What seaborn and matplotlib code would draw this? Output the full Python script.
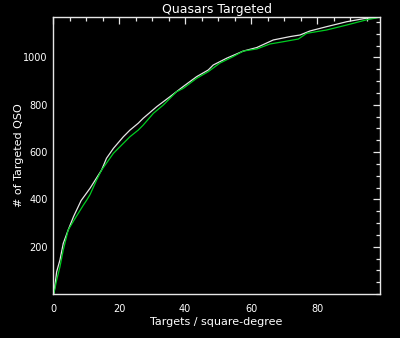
import numpy as np
import pandas as pd
import matplotlib
matplotlib.use("Agg")
import matplotlib.pyplot as plt
import seaborn as sns
from matplotlib.ticker import MultipleLocator, FixedLocator

# Data
white_x = [0, 0.3, 1.1, 2.1, 3.1, 4.6, 6.2, 8.5, 11.2, 14.7, 16.2, 18.3, 21.3, 23.3, 25.8,
           27.3, 31.4, 35.4, 39.4, 43.5, 47.0, 48.5, 52.6, 57.6, 61.7, 66.7, 71.7, 74.8,
           77.8, 82.8, 88.9, 94.9, 99]
white_y = [0, 4, 94, 144, 214, 271, 327, 395, 447, 524, 574, 616, 665, 693, 722,
           743, 792, 834, 877, 919, 947, 968, 997, 1027, 1042, 1074, 1088, 1095,
           1112, 1130, 1151, 1166, 1170]
green_x = [0, 0.3, 1.1, 2.1, 3.1, 4.6, 6.7, 9.2, 10.2, 11.2, 13.2, 14.7, 18.3, 21.3, 23.3,
           25.8, 27.3, 30.4, 33.4, 37.4, 39.4, 43.5, 47.0, 50.5, 54.6, 57.6, 61.7, 65.7,
           69.9, 74.3, 76.8, 82.8, 88.9, 94.9, 99]
green_y = [0, 4, 59, 115, 186, 271, 320, 376, 397, 420, 482, 524, 595, 637, 665,
           693, 714, 764, 799, 855, 869, 912, 940, 976, 1004, 1027, 1036, 1057,
           1067, 1078, 1102, 1116, 1137, 1159, 1170]

title = "Quasars Targeted"
xlabel = "Targets / square-degree"
ylabel = "# of Targeted QSO"

df = pd.concat([
    pd.DataFrame({"x": white_x, "y": white_y, "s": "white"}),
    pd.DataFrame({"x": green_x, "y": green_y, "s": "green"}),
])

sns.set_style("dark")
plt.rcParams['font.family'] = ['DejaVu Sans']
fig = plt.figure(figsize=(4.0, 3.38), dpi=100, facecolor="black")
ax = fig.add_axes([0.1325, 0.130, 0.8175, 0.8197])
ax.set_facecolor("black")

sns.lineplot(data=df, x="x", y="y", hue="s", palette={"white": "#e6e6e6", "green": "#00cc22"},
             sort=False, estimator=None, linewidth=0.9, legend=False, ax=ax)

ax.set_xlim(0, 99)
ax.set_ylim(0, 1171)
ax.xaxis.set_major_locator(FixedLocator([0, 20, 40, 60, 80]))
ax.xaxis.set_minor_locator(MultipleLocator(5))
ax.yaxis.set_major_locator(FixedLocator([200, 400, 600, 800, 1000]))
ax.yaxis.set_minor_locator(MultipleLocator(50))
ax.grid(False)
for sp in ax.spines.values():
    sp.set_visible(True)
    sp.set_color("#e6e6e6")
    sp.set_linewidth(1.0)
ax.tick_params(which="both", direction="in", colors="#e6e6e6", top=True, right=True,
               labelsize=7, labelcolor="white")
ax.tick_params(which="major", length=5, width=0.9)
ax.tick_params(axis="y", which="major", pad=4)
ax.tick_params(axis="x", which="major", pad=7)
ax.tick_params(which="minor", length=3, width=0.9)

ax.set_title(title, color="white", fontsize=9, pad=3)
ax.set_xlabel(xlabel, color="white", fontsize=8, labelpad=2)
ax.set_ylabel(ylabel, color="white", fontsize=8, labelpad=-1)

fig.savefig("out.png", dpi=100, facecolor="black")
